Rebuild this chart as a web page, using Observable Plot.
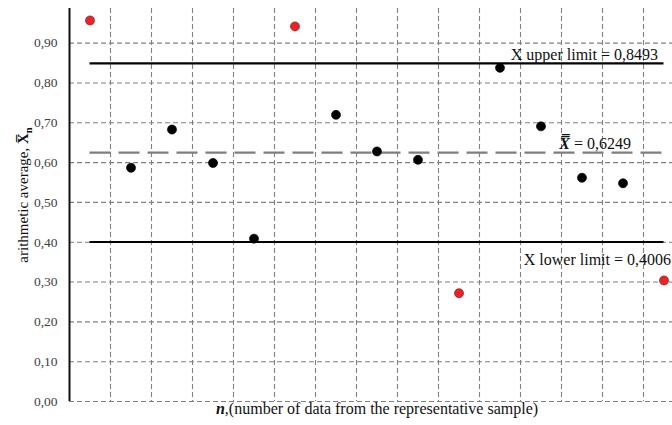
<!DOCTYPE html>
<html><head><meta charset="utf-8">
<script src="https://cdn.jsdelivr.net/npm/d3@7"></script>
<script src="https://cdn.jsdelivr.net/npm/@observablehq/plot@0.6"></script>
<style>
html,body{margin:0;padding:0;background:#fff;overflow:hidden;}
#chart svg{display:block;}
</style></head><body><div id="chart"></div>
<script>
// ---- data ----
const sampleN = [1, 2, 3, 4, 5, 6, 7, 8, 9, 10, 11, 12, 13, 14, 15];
const averages = [0.957, 0.587, 0.683, 0.599, 0.409, 0.942, 0.720, 0.628, 0.607, 0.272, 0.838, 0.691, 0.562, 0.548, 0.304];
const upperLimit = 0.8493;
const centerLine = 0.6249;
const lowerLimit = 0.4006;
const yTicks = [0, 0.1, 0.2, 0.3, 0.4, 0.5, 0.6, 0.7, 0.8, 0.9];
const yTickLabels = ["0,00", "0,10", "0,20", "0,30", "0,40", "0,50", "0,60", "0,70", "0,80", "0,90"];
const upperLabel = "X upper limit = 0,8493";
const lowerLabel = "X lower limit = 0,4006";
const centerLabel = "X\u033F = 0,6249";
const yLabel = "arithmetic average, X\u0305n";
const xLabel = "n,(number of data from the representative sample)";

// ---- build ----
const points = sampleN.map((n, i) => ({n, v: averages[i], out: averages[i] > upperLimit || averages[i] < lowerLimit}));
const boundaries = sampleN.map(n => n + 0.5);
const serif = "'Liberation Serif', 'Times New Roman', serif";

const chart = Plot.plot({
  width: 672,
  height: 425,
  marginLeft: 69,
  marginRight: -12,
  marginTop: 8,
  marginBottom: 24,
  style: {fontFamily: serif, background: "#fff", overflow: "hidden"},
  x: {domain: [0.5, 15.5], axis: null},
  y: {domain: [0, 0.987], axis: null},
  marks: [
    Plot.ruleY(yTicks, {stroke: "#808080", strokeWidth: 1.1, strokeDasharray: "5,3"}),
    Plot.ruleX(boundaries, {stroke: "#808080", strokeWidth: 1.1, strokeDasharray: "5,3"}),
    Plot.ruleX([0.5], {stroke: "#111", strokeWidth: 2}),
    Plot.ruleY([upperLimit, lowerLimit], {x1: sampleN[0], x2: sampleN[sampleN.length - 1], stroke: "#000", strokeWidth: 2.2}),
    Plot.ruleY([centerLine], {x1: sampleN[0], x2: sampleN[sampleN.length - 1], stroke: "#7f7f7f", strokeWidth: 2.2, strokeDasharray: "21,8"}),
    Plot.dot(points, {x: "n", y: "v", r: 4.5, fill: d => d.out ? "#e8232a" : "#000", stroke: d => d.out ? "#8b1a1a" : "#000", strokeWidth: 0.7}),
    Plot.axisY(yTicks, {tickFormat: d => yTickLabels[yTicks.indexOf(d)], tickSize: 0, tickPadding: 12, fontSize: 13.5, fill: "#404040", label: null, fontFamily: serif}),
    Plot.text([upperLabel], {x: sampleN[sampleN.length - 1], y: upperLimit, text: d => d, textAnchor: "end", dx: -6, dy: -8, fontSize: 16, fill: "#111", fontFamily: serif}),
    Plot.text([lowerLabel], {x: sampleN[sampleN.length - 1], y: lowerLimit, text: d => d, textAnchor: "end", dx: 7, dy: 18, fontSize: 16, fill: "#111", fontFamily: serif}),
    Plot.text([centerLabel], {x: sampleN[sampleN.length - 1], y: centerLine, text: d => d, textAnchor: "end", dx: -33, dy: -9, fontSize: 16, fill: "#111", fontFamily: serif}),
    Plot.text([yLabel], {frameAnchor: "left", textAnchor: "middle", text: d => d, rotate: -90, dx: -46, dy: -10, fontSize: 15, fill: "#111", fontFamily: serif}),
    Plot.text([xLabel], {frameAnchor: "bottom", text: d => d, dy: 12, fontSize: 16, fill: "#111", fontFamily: serif})
  ]
});
document.getElementById("chart").appendChild(chart);

// ---- rich text styling ----
d3.select(chart).selectAll("text").style("font-family", serif).each(function() {
  const t = d3.select(this);
  const s = this.textContent;
  if (s === yLabel) {
    t.text(null);
    t.append("tspan").text("arithmetic average, ");
    t.append("tspan").attr("font-weight", "bold").text("X\u0305");
    t.append("tspan").attr("font-weight", "bold").attr("font-size", 10.5).attr("dy", 4).text("n");
  } else if (s === xLabel) {
    t.text(null);
    t.append("tspan").attr("font-weight", "bold").attr("font-style", "italic").text("n");
    t.append("tspan").text(",(number of data from the representative sample)");
  } else if (s === centerLabel) {
    t.text(null);
    t.append("tspan").attr("font-weight", "bold").attr("font-style", "italic").text("X\u033F");
    t.append("tspan").text(" = 0,6249");
  }
});
</script></body></html>
